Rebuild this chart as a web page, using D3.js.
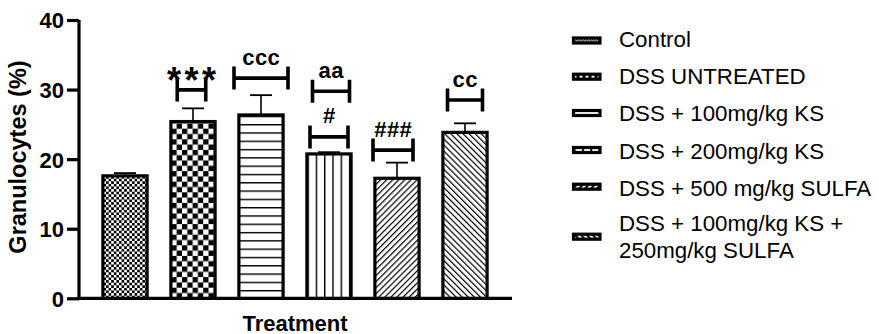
<!DOCTYPE html>
<html><head><meta charset="utf-8">
<script src="https://cdn.jsdelivr.net/npm/d3@7"></script>
<style>
body{margin:0;background:#fff}
svg text{font-family:"Liberation Sans",Arial,sans-serif;fill:#000}
</style>
</head><body>
<svg id="chart" width="879" height="334"></svg>
<script>
// Granulocyte percentage per treatment group (mean + upper SEM)
const categories = ["Control","DSS UNTREATED","DSS + 100mg/kg KS","DSS + 200mg/kg KS","DSS + 500 mg/kg SULFA","DSS + 100mg/kg KS + 250mg/kg SULFA"];
const legendLines = [["Control"],["DSS UNTREATED"],["DSS + 100mg/kg KS"],["DSS + 200mg/kg KS"],["DSS + 500 mg/kg SULFA"],["DSS + 100mg/kg KS +","250mg/kg SULFA"]];
const means = [17.6, 25.4, 26.35, 20.75, 17.25, 23.85];
const sems  = [0.4, 1.9, 2.85, 0.25, 2.25, 1.3];
const yTicks = [0, 10, 20, 30, 40];

// significance brackets: group index, label, bracket level (%)
const sigGroup = [1, 2, 3, 3, 4, 5];
const sigLabel = ["***", "ccc", "aa", "#", "###", "cc"];
const sigLevel = [29.95, 31.65, 29.75, 23.2, 21.3, 28.5];

const svg = d3.select("#chart");
const defs = svg.append("defs");

const x = d3.scaleBand().domain(categories).range([91, 499]).paddingInner(0.35).paddingOuter(0.175);
const y = d3.scaleLinear().domain([0, 40]).range([298.3, 20]);

// fill patterns, one per group; "leg" versions are coarser relative to the tiny swatches
const patternKinds = ["fineCheck", "coarseCheck", "hLines", "vLines", "diagUp", "diagDown"];
function makePattern(id, kind, opt) {
  const p = defs.append("pattern").attr("id", id).attr("patternUnits", "userSpaceOnUse");
  if (kind === "fineCheck" || kind === "coarseCheck") {
    const c = kind === "fineCheck" ? opt.fine : opt.coarse;
    p.attr("width", 2 * c).attr("height", 2 * c).attr("x", opt.ox).attr("y", opt.oy);
    p.append("rect").attr("width", 2 * c).attr("height", 2 * c).attr("fill", "#fff");
    p.append("rect").attr("width", c).attr("height", c).attr("fill", "#000");
    p.append("rect").attr("x", c).attr("y", c).attr("width", c).attr("height", c).attr("fill", "#000");
  } else if (kind === "hLines") {
    const s = opt.lines;
    p.attr("width", 10).attr("height", s).attr("y", opt.oy);
    p.append("rect").attr("width", 10).attr("height", s).attr("fill", "#fff");
    p.append("rect").attr("width", 10).attr("height", opt.lw).attr("fill", "#000");
  } else if (kind === "vLines") {
    const s = opt.lines;
    p.attr("width", s).attr("height", 10).attr("x", opt.ox);
    p.append("rect").attr("width", s).attr("height", 10).attr("fill", "#fff");
    p.append("rect").attr("width", opt.lw).attr("height", 10).attr("fill", "#000");
  } else {
    const s = opt.diag;
    p.attr("width", s).attr("height", 10)
      .attr("patternTransform", `rotate(${kind === "diagUp" ? 45 : -45})`);
    p.append("rect").attr("width", s).attr("height", 10).attr("fill", "#fff");
    p.append("rect").attr("width", opt.dw).attr("height", 10).attr("fill", "#000");
  }
}
categories.forEach((c, i) => {
  makePattern("bar" + i, patternKinds[i],
    { fine: 2.6, coarse: 5.3, lines: 8.3, lw: 1.4, diag: 4.3, dw: 1.2, ox: x(c) + 0.5, oy: y(0) });
  makePattern("leg" + i, patternKinds[i],
    { fine: 1.3, coarse: 3, lines: 8.4, lw: 2, diag: 4.2, dw: 1.9, ox: 573.5, oy: 0 });
});

// y axis
const yAxis = svg.append("g").attr("transform", "translate(79,0)")
  .call(d3.axisLeft(y).tickValues(yTicks).tickSize(12).tickPadding(3));
yAxis.select(".domain").attr("stroke", "#000").attr("stroke-width", 3.2).attr("d", `M0,${y(40)}V${y(0)}`);
yAxis.selectAll(".tick line").attr("stroke", "#000").attr("stroke-width", 3.2);
yAxis.selectAll(".tick text").attr("font-size", 22).attr("font-weight", "bold")
  .attr("font-family", "Liberation Sans, Arial, sans-serif").attr("dy", "0.36em");

// x axis baseline
svg.append("line").attr("x1", 79).attr("x2", 512).attr("y1", y(0)).attr("y2", y(0))
  .attr("stroke", "#000").attr("stroke-width", 3.2);

// error bars (upper only)
const err = svg.append("g");
categories.forEach((c, i) => {
  const cx = x(c) + x.bandwidth() / 2;
  err.append("line").attr("x1", cx).attr("x2", cx).attr("y1", y(means[i])).attr("y2", y(means[i] + sems[i]))
    .attr("stroke", "#000").attr("stroke-width", 1.6);
  err.append("line").attr("x1", cx - 11).attr("x2", cx + 11).attr("y1", y(means[i] + sems[i])).attr("y2", y(means[i] + sems[i]))
    .attr("stroke", "#000").attr("stroke-width", 1.8);
});

// bars
svg.append("g").selectAll("rect").data(categories).join("rect")
  .attr("x", d => x(d)).attr("width", x.bandwidth())
  .attr("y", (d, i) => y(means[i])).attr("height", (d, i) => y(0) - y(means[i]))
  .attr("fill", (d, i) => `url(#bar${i})`)
  .attr("stroke", "#000").attr("stroke-width", 3.2);

// significance brackets
const bracketWidth = [28.5, 54, 37, 38, 40, 35];
const bracketShift = [-1.5, 0, 2, 0, -4, 0];
const sig = svg.append("g");
sigLabel.forEach((lab, j) => {
  const cx = x(categories[sigGroup[j]]) + x.bandwidth() / 2 + bracketShift[j];
  const by = y(sigLevel[j]);
  const w = bracketWidth[j] / 2, h = 11.5;
  sig.append("path")
    .attr("d", `M${cx - w},${by - h}V${by + h}M${cx + w},${by - h}V${by + h}M${cx - w},${by}H${cx + w}`)
    .attr("stroke", "#000").attr("stroke-width", 3.6).attr("fill", "none");
  const stars = lab === "***";
  const ls = stars ? 3.5 : 0.5;
  sig.append("text").attr("x", cx + ls / 2).attr("y", by + (stars ? 3 : -13.5))
    .attr("text-anchor", "middle").attr("font-weight", "bold")
    .attr("font-size", stars ? 36 : 22)
    .attr("letter-spacing", ls)
    .text(lab);
});

// axis titles
svg.append("text").attr("transform", "translate(26,157) rotate(-90)")
  .attr("text-anchor", "middle").attr("font-size", 23.5).attr("font-weight", "bold")
  .text("Granulocytes (%)");
svg.append("text").attr("x", 295).attr("y", 330.5).attr("text-anchor", "middle")
  .attr("font-size", 22).attr("font-weight", "bold").text("Treatment");

// legend
const rowBase = [47, 84, 121, 158.5, 196, 230.7];
const swatchMid = [40.5, 76.7, 113, 150, 186.7, 236.7];
const leg = svg.append("g");
legendLines.forEach((lines, i) => {
  leg.append("rect").attr("x", 573.5).attr("y", swatchMid[i] - 2.5).attr("width", 26.5).attr("height", 5)
    .attr("fill", `url(#leg${i})`).attr("stroke", "#000").attr("stroke-width", 3.2);
  lines.forEach((t, k) => {
    leg.append("text").attr("x", 619).attr("y", rowBase[i] + k * 27.4)
      .attr("font-size", 22.3).text(t);
  });
});
</script>
</body></html>
